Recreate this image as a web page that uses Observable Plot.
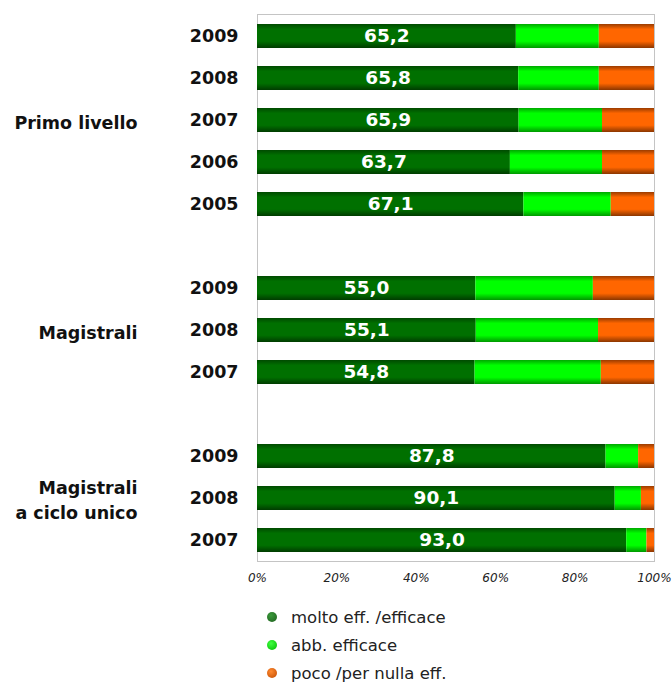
<!DOCTYPE html>
<html>
<head>
<meta charset="utf-8">
<script src="https://cdn.jsdelivr.net/npm/d3@7"></script>
<script src="https://cdn.jsdelivr.net/npm/@observablehq/plot@0.6"></script>
<style>
  html, body { margin: 0; padding: 0; background: #fff; }
  #chart { width: 672px; }
  .legend { margin: 8px 0 0 267px; font-family: "DejaVu Sans", sans-serif; font-size: 16.5px; color: #222; }
  .legend .item { height: 28px; display: flex; align-items: center; }
  .legend .dot { width: 10px; height: 10px; border-radius: 50%; margin-right: 14px; }
</style>
</head>
<body>
<svg width="0" height="0" style="position:absolute">
  <defs>
    <linearGradient id="gDark" x1="0" y1="0" x2="0" y2="1">
      <stop offset="0" stop-color="#004a00"/>
      <stop offset="0.22" stop-color="#007000"/>
      <stop offset="0.72" stop-color="#007000"/>
      <stop offset="1" stop-color="#003c00"/>
    </linearGradient>
    <linearGradient id="gLight" x1="0" y1="0" x2="0" y2="1">
      <stop offset="0" stop-color="#00a800"/>
      <stop offset="0.22" stop-color="#00ff00"/>
      <stop offset="0.72" stop-color="#00ff00"/>
      <stop offset="1" stop-color="#009800"/>
    </linearGradient>
    <linearGradient id="gOrange" x1="0" y1="0" x2="0" y2="1">
      <stop offset="0" stop-color="#9a3c00"/>
      <stop offset="0.22" stop-color="#ff6600"/>
      <stop offset="0.72" stop-color="#ff6600"/>
      <stop offset="1" stop-color="#8a3600"/>
    </linearGradient>
  </defs>
</svg>
<div id="chart"></div>
<script>
// ---- data ----
const groupNames = ["Primo livello", "Magistrali", "Magistrali\na ciclo unico"];
const groupYears = [[2009, 2008, 2007, 2006, 2005], [2009, 2008, 2007], [2009, 2008, 2007]];
const groupLabelYear = [2007, 2008, 2008];
const series = ["molto eff. /efficace", "abb. efficace", "poco /per nulla eff."];
const molto = [65.2, 65.8, 65.9, 63.7, 67.1, 55.0, 55.1, 54.8, 87.8, 90.1, 93.0];
const abb   = [20.9, 20.3, 21.0, 23.2, 22.0, 29.6, 30.8, 31.8, 8.2, 6.6, 5.1];
const poco  = [13.9, 13.9, 13.1, 13.1, 10.9, 15.4, 14.1, 13.4, 4.0, 3.3, 1.9];
const xTicks = [0, 20, 40, 60, 80, 100];
const fills = ["url(#gDark)", "url(#gLight)", "url(#gOrange)"];
const legendColors = ["radial-gradient(circle at 40% 35%, #3a9a3a, #1e5e1e)", "radial-gradient(circle at 40% 35%, #40ff40, #00b800)", "radial-gradient(circle at 40% 35%, #ff8a30, #c04a00)"];

// ---- build rows ----
const domain = [];
const rows = [];
let idx = 0;
groupYears.forEach((yrs, g) => {
  if (g > 0) domain.push("gap" + g);
  yrs.forEach(y => {
    const key = g + "-" + y;
    domain.push(key);
    rows.push({key, group: g, year: y, vals: [molto[idx], abb[idx], poco[idx]]});
    idx++;
  });
});
const data = rows.flatMap(r => r.vals.map((v, s) => ({key: r.key, series: series[s], value: v})));
const labels = rows.map(r => ({key: r.key, value: r.vals[0]}));
const groupLabels = groupNames.map((name, g) => ({key: g + "-" + groupLabelYear[g], name}));

const fmt = v => v.toFixed(1).replace(".", ",");

const plot = Plot.plot({
  width: 672,
  height: 595,
  marginLeft: 257,
  marginRight: 18,
  marginTop: 14,
  marginBottom: 34,
  style: {fontFamily: "DejaVu Sans, sans-serif", background: "#fff"},
  x: {domain: [0, 100]},
  y: {domain, paddingInner: 0.43, paddingOuter: 0.215},
  color: {domain: series, range: fills},
  marks: [
    Plot.frame({stroke: "#c4c4c4"}),
    Plot.barX(data, Plot.stackX({y: "key", x: "value", fill: "series"})),
    Plot.text(labels, {
      y: "key", x: d => d.value / 2, text: d => fmt(d.value),
      fill: "#fff", fontSize: 18.5, fontWeight: "bold"
    }),
    Plot.axisX({
      ticks: xTicks, tickSize: 0, tickPadding: 12,
      tickFormat: d => d + "%", fontSize: 12, fontStyle: "italic", fill: "#222", label: null
    }),
    Plot.axisY({
      ticks: domain.filter(k => !k.startsWith("gap")),
      tickSize: 0, tickPadding: 19,
      tickFormat: k => k.split("-")[1], fontSize: 17.5, fontWeight: "bold", fill: "#111", label: null
    }),
    Plot.text(groupLabels, {
      y: "key", text: "name", frameAnchor: "left", dx: -120, textAnchor: "end",
      lineHeight: 1.43, fontSize: 17.5, fontWeight: "bold", fill: "#111"
    })
  ]
});
document.getElementById("chart").appendChild(plot);

// ---- legend ----
const leg = document.createElement("div");
leg.className = "legend";
series.forEach((s, i) => {
  const it = document.createElement("div");
  it.className = "item";
  const dot = document.createElement("span");
  dot.className = "dot";
  dot.style.background = legendColors[i];
  const t = document.createElement("span");
  t.textContent = s;
  it.appendChild(dot); it.appendChild(t);
  leg.appendChild(it);
});
document.getElementById("chart").appendChild(leg);
</script>
</body>
</html>
